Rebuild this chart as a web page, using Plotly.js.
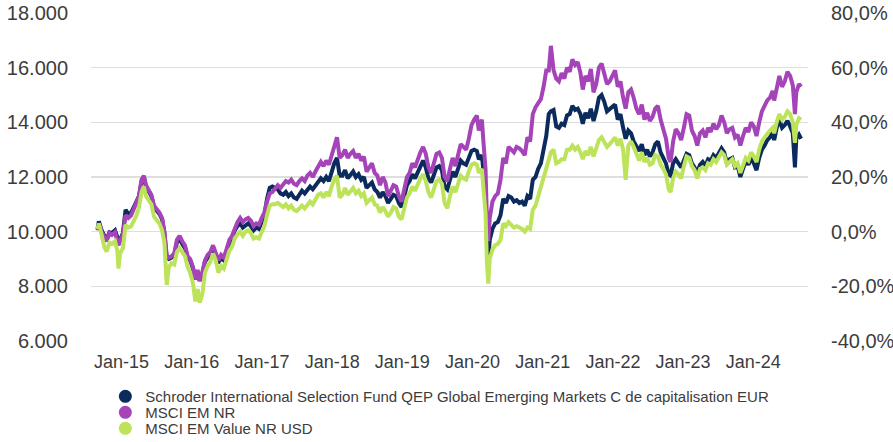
<!DOCTYPE html>
<html>
<head>
<meta charset="utf-8">
<script src="https://cdn.plot.ly/plotly-3.0.1.min.js"></script>
<style>html,body{margin:0;padding:0;background:#fff;}#chart{width:893px;height:442px;}</style>
</head>
<body>
<div id="chart"></div>
<script>
// ---- data (index level, base 10.000) ----
const dates = [
'2014-08-29','2014-09-05','2014-09-19','2014-10-03','2014-10-15','2014-10-30','2014-11-12','2014-11-28','2014-12-10','2014-12-16','2014-12-24',
'2015-01-08','2015-01-22','2015-02-05','2015-02-20','2015-03-06','2015-03-20','2015-04-02','2015-04-15','2015-04-27','2015-05-08','2015-05-22','2015-06-05','2015-06-19','2015-07-03','2015-07-17','2015-07-31','2015-08-12','2015-08-24','2015-09-04','2015-09-18','2015-10-02','2015-10-16','2015-10-30','2015-11-13','2015-11-27','2015-12-11','2015-12-24',
'2016-01-08','2016-01-20','2016-02-01','2016-02-11','2016-02-25','2016-03-10','2016-03-24','2016-04-07','2016-04-21','2016-05-05','2016-05-19','2016-06-02','2016-06-16','2016-06-30','2016-07-15','2016-07-29','2016-08-12','2016-08-26','2016-09-09','2016-09-23','2016-10-07','2016-10-21','2016-11-04','2016-11-18','2016-12-02','2016-12-16','2016-12-30',
'2017-01-13','2017-01-27','2017-02-10','2017-02-24','2017-03-10','2017-03-24','2017-04-07','2017-04-21','2017-05-05','2017-05-19','2017-06-02','2017-06-16','2017-06-30','2017-07-14','2017-07-28','2017-08-11','2017-08-25','2017-09-08','2017-09-22','2017-10-06','2017-10-20','2017-11-03','2017-11-17','2017-12-01','2017-12-15','2017-12-29',
'2018-01-12','2018-01-26','2018-02-09','2018-02-23','2018-03-09','2018-03-23','2018-04-06','2018-04-20','2018-05-04','2018-05-18','2018-06-01','2018-06-15','2018-06-29','2018-07-13','2018-07-27','2018-08-10','2018-08-24','2018-09-07','2018-09-21','2018-10-05','2018-10-19','2018-11-02','2018-11-16','2018-11-30','2018-12-14','2018-12-28',
'2019-01-11','2019-01-25','2019-02-08','2019-02-22','2019-03-08','2019-03-22','2019-04-05','2019-04-19','2019-05-03','2019-05-17','2019-05-31','2019-06-14','2019-06-28','2019-07-12','2019-07-26','2019-08-09','2019-08-23','2019-09-06','2019-09-20','2019-10-04','2019-10-18','2019-11-01','2019-11-15','2019-11-29','2019-12-13','2019-12-27',
'2020-01-10','2020-01-24','2020-02-03','2020-02-19','2020-02-28','2020-03-09','2020-03-16','2020-03-23','2020-03-31','2020-04-14','2020-04-28','2020-05-12','2020-05-26','2020-06-09','2020-06-23','2020-07-07','2020-07-21','2020-08-04','2020-08-18','2020-09-01','2020-09-15','2020-09-29','2020-10-13','2020-10-27','2020-11-10','2020-11-24','2020-12-08','2020-12-22',
'2021-01-05','2021-01-19','2021-02-01','2021-02-12','2021-02-26','2021-03-12','2021-03-26','2021-04-09','2021-04-23','2021-05-07','2021-05-21','2021-06-04','2021-06-18','2021-07-02','2021-07-16','2021-07-28','2021-08-11','2021-08-25','2021-09-08','2021-09-22','2021-10-06','2021-10-20','2021-11-03','2021-11-17','2021-12-01','2021-12-15','2021-12-29',
'2022-01-12','2022-01-26','2022-02-09','2022-02-23','2022-03-08','2022-03-22','2022-04-05','2022-04-19','2022-05-03','2022-05-17','2022-05-31','2022-06-14','2022-06-28','2022-07-12','2022-07-26','2022-08-09','2022-08-23','2022-09-06','2022-09-20','2022-10-04','2022-10-18','2022-10-28','2022-11-10','2022-11-24','2022-12-08','2022-12-22',
'2023-01-05','2023-01-19','2023-02-02','2023-02-16','2023-03-02','2023-03-16','2023-03-30','2023-04-13','2023-04-27','2023-05-11','2023-05-25','2023-06-08','2023-06-22','2023-07-06','2023-07-20','2023-08-03','2023-08-17','2023-08-31','2023-09-14','2023-09-28','2023-10-12','2023-10-26','2023-11-09','2023-11-23','2023-12-07','2023-12-21',
'2024-01-04','2024-01-18','2024-02-01','2024-02-15','2024-02-29','2024-03-14','2024-03-28','2024-04-11','2024-04-19','2024-05-02','2024-05-16','2024-05-30','2024-06-13','2024-06-27','2024-07-11','2024-07-25','2024-08-05','2024-08-12','2024-08-26','2024-09-06'
];

const fund = [
10100,10380,10050,9850,9700,9980,9950,10050,9800,9550,9700,
9950,10800,10650,10700,10900,11100,11300,11850,12000,11650,11450,11300,10900,10800,10650,10450,9950,9050,9000,9050,9150,9600,9750,9550,9400,9050,8950,
8650,8250,8550,8200,8450,8900,9050,9200,9400,9150,8850,9050,8950,9250,9600,9750,10050,10200,10300,10150,10250,10300,10200,10050,10150,10100,10350,
10600,11200,11600,11650,11600,11550,11400,11350,11450,11300,11400,11250,11200,11350,11500,11400,11550,11650,11550,11700,11850,11950,11850,12000,11850,12200,
12500,12700,12050,12050,12250,11950,12100,12200,12000,12100,11900,12000,11600,11700,11800,11550,11450,11250,11450,11300,11050,11200,11350,11300,11050,10900,
11350,11700,11850,12100,11950,12200,12450,12600,12350,11950,11800,12100,12350,12400,12250,11650,11550,11900,12200,12000,12350,12600,12500,12450,12700,12950,
13000,12950,12650,12800,12150,11500,9700,9000,9700,10100,10300,10350,10600,11200,11050,11300,11250,11100,11150,11050,11100,10950,11300,11200,11900,12000,12300,12500,
13000,13500,14300,14400,14450,13850,13800,13950,13900,14250,14300,14600,14450,14500,14300,13950,14350,14150,14500,14050,14400,14900,15000,14750,14400,14500,14600,
14650,14100,14300,13800,13400,13700,13600,13300,13100,12950,13200,12800,13000,12750,12900,13200,13300,12900,12700,12500,12100,12050,12500,12650,12500,12350,
12600,12850,12800,12500,12350,12150,12450,12550,12400,12650,12600,12800,12700,12850,13050,12900,12500,12650,12700,12350,12400,12000,12350,12600,12450,12700,
12500,12250,12700,13000,13150,13350,13450,13650,13350,13800,14100,13800,13900,14050,13850,13600,12350,13400,13550,13400
];

const msciEM = [
10050,10300,10000,9800,9650,9950,9880,9980,9700,9500,9650,
9900,10600,10500,10600,10850,11100,11300,11900,12050,11700,11500,11350,10950,10850,10700,10500,10000,9100,9050,9100,9200,9700,9850,9650,9500,9100,9000,
8700,8250,8600,8200,8500,8950,9150,9250,9500,9250,8950,9150,9050,9350,9700,9850,10150,10350,10500,10350,10450,10500,10400,10200,10300,10250,10500,
10700,11100,11400,11450,11550,11700,11600,11700,11850,11800,11900,11750,11700,11850,11950,11850,12050,12150,12000,12200,12350,12550,12400,12600,12450,12800,
13100,13450,12700,12800,13000,12700,12850,12950,12700,12850,12600,12750,12200,12350,12500,12150,12050,11700,12000,11800,11300,11500,11700,11650,11300,11100,
11600,12000,12150,12500,12350,12650,12900,13100,12850,12350,12150,12500,12850,12900,12700,12000,11850,12300,12700,12400,12800,13200,13100,13000,13400,13900,
14100,14250,13700,14100,13200,12300,10500,9650,10500,11100,11300,11400,11900,12700,12500,13100,13000,12900,13100,13050,12950,12800,13450,13300,14300,14550,14700,14850,
15300,15900,15900,16800,15900,15600,15500,15800,15600,16000,15850,16300,16100,16200,15800,15200,15700,15500,15950,15100,15400,16000,16150,15800,15400,15500,15700,
15900,15300,15500,14900,14500,15100,15200,14900,14500,14300,14650,14100,14350,14050,14200,14500,14600,14100,13700,13400,12700,12550,13300,13750,13600,13350,
13800,14300,14250,13700,13500,13150,13600,13700,13450,13800,13650,13950,13750,13900,14250,14000,13600,13750,13800,13450,13550,13150,13500,13800,13650,14000,
13850,13500,14000,14400,14600,14800,14900,15150,14800,15300,15700,15300,15500,15850,15700,15350,14300,15100,15400,15300
];

const msciEMValue = [
10100,10300,9900,9450,9270,9600,9550,9650,9300,8650,9200,
9400,10250,10150,10200,10400,10600,10900,11450,11650,11300,11150,11000,10550,10400,10300,10050,9600,8050,8700,8850,8800,9250,9400,9250,9100,8700,8500,
8100,7450,7900,7400,7700,8500,8750,8900,9200,8950,8500,8750,8650,8950,9300,9450,9750,9900,10000,9850,10000,10050,9950,9750,9800,9750,10000,
10200,10600,10950,11000,11000,11050,10950,10900,11000,10850,10950,10800,10750,10850,10950,10850,11000,11100,11000,11200,11350,11400,11250,11450,11300,11650,
11900,12050,11250,11350,11600,11350,11500,11600,11400,11500,11300,11400,11050,11150,11250,11000,10950,10700,10900,10750,10550,10700,10900,10850,10550,10450,
10900,11250,11400,11650,11500,11750,11950,12100,11850,11450,11250,11550,11850,11900,11750,11050,10850,11300,11650,11450,11800,12050,11950,11900,12200,12450,
12500,12450,12150,12300,11500,10700,8900,8100,9000,9350,9500,9550,9700,10300,10200,10350,10250,10150,10200,10150,10100,10000,10150,10100,10800,10950,11300,11650,
12000,12400,12750,12900,13000,12500,12550,12650,12650,13000,13000,13150,13000,13100,12900,12650,12950,12800,13100,12750,13050,13350,13450,13300,13100,13200,13350,
13450,13150,13400,13000,11900,13150,13300,13100,12800,12600,12900,12550,12700,12450,12500,12800,12750,12450,12300,12100,11550,11450,11950,12200,12100,11950,
12400,12750,12700,12400,12250,11950,12300,12350,12250,12500,12450,12650,12550,12700,12900,12800,12450,12550,12650,12400,12500,12150,12450,12700,12600,12900,
12750,12550,13000,13300,13450,13600,13700,13800,13600,14000,14300,14100,14200,14400,14300,14000,13250,13900,14150,14100
];

const seriesNames = [
  'Schroder International Selection Fund QEP Global Emerging Markets C de capitalisation EUR',
  'MSCI EM NR',
  'MSCI EM Value NR USD'
];
const seriesColors = ['#0b2b5c', '#a544b9', '#bce35a'];

const tickYears = [2015,2016,2017,2018,2019,2020,2021,2022,2023,2024];
const tickLabels = ['Jan-15','Jan-16','Jan-17','Jan-18','Jan-19','Jan-20','Jan-21','Jan-22','Jan-23','Jan-24'];
const leftTickVals = [6000,8000,10000,12000,14000,16000,18000];
const rightTickVals = [-0.4,-0.2,0,0.2,0.4,0.6,0.8];
const rightTickLabels = ['-40,0%','-20,0%','0,0%','20,0%','40,0%','60,0%','80,0%'];
const base = 10000;

// ---- traces ----
const values = [fund, msciEM, msciEMValue];
const traces = [];
// invisible trace to anchor the right-hand percentage axis
traces.push({
  x: dates, y: fund.map(v => v / base - 1), yaxis: 'y2', type: 'scatter', mode: 'lines',
  line: {width: 0, color: 'rgba(0,0,0,0)'}, opacity: 0, showlegend: false, hoverinfo: 'skip'
});
values.forEach((vals, i) => {
  traces.push({
    x: dates, y: vals, type: 'scatter', mode: 'lines', name: seriesNames[i],
    line: {color: seriesColors[i], width: 4}, showlegend: false, legendgroup: 'g' + i
  });
});
// legend entries with round markers
values.forEach((vals, i) => {
  traces.push({
    x: [null], y: [null], type: 'scatter', mode: 'markers', name: seriesNames[i],
    marker: {color: seriesColors[i], size: 13, symbol: 'circle'}, legendgroup: 'g' + i, hoverinfo: 'skip'
  });
});

const layout = {
  width: 893, height: 442,
  margin: {l: 91, r: 85, t: 13, b: 101, pad: 0, autoexpand: false},
  paper_bgcolor: '#ffffff', plot_bgcolor: '#ffffff',
  font: {family: '"Liberation Sans", Arial, sans-serif', color: '#3c3c3c'},
  separators: ',.',
  xaxis: {
    type: 'date', range: ['2014-07-26', '2024-10-12'],
    tickvals: tickYears.map(y => y + '-01-01'), ticktext: tickLabels,
    showgrid: false, zeroline: false, showline: false, ticks: '',
    tickfont: {size: 18, color: '#3c3c3c'}, ticklabelstandoff: 8
  },
  yaxis: {
    range: [6000, 18000], tickvals: leftTickVals, tickformat: ',d',
    showgrid: true, gridcolor: '#dedede', gridwidth: 1.6, zeroline: false, showline: false, ticks: '',
    tickfont: {size: 20, color: '#3c3c3c'}, ticklabelstandoff: 22
  },
  yaxis2: {
    overlaying: 'y', side: 'right', range: [-0.4, 0.8],
    tickvals: rightTickVals, ticktext: rightTickLabels,
    showgrid: false, zeroline: false, showline: false, ticks: '',
    tickfont: {size: 20, color: '#3c3c3c'}, ticklabelstandoff: 22
  },
  showlegend: true,
  legend: {
    orientation: 'v', x: 0.02, xanchor: 'left', y: -0.119, yanchor: 'top',
    font: {size: 15, color: '#3c3c3c'}, bgcolor: 'rgba(0,0,0,0)', tracegroupgap: 0
  }
};

// tighter legend rows (16 px apart, as in the reference)
const legendRowStep = 16;
Plotly.newPlot('chart', traces, layout, {staticPlot: true, displayModeBar: false}).then(gd => {
  const items = gd.querySelectorAll('.legend .traces');
  if (!items.length) return;
  const parse = el => {
    const m = /translate\(\s*([-\d.]+)[ ,]+([-\d.]+)\s*\)/.exec(el.getAttribute('transform') || '');
    return m ? [parseFloat(m[1]), parseFloat(m[2])] : [0, 0];
  };
  const first = parse(items[0]);
  items.forEach((el, i) => {
    const p = parse(el);
    el.setAttribute('transform', 'translate(' + p[0] + ',' + (first[1] + i * legendRowStep) + ')');
  });
});
</script>
</body>
</html>
